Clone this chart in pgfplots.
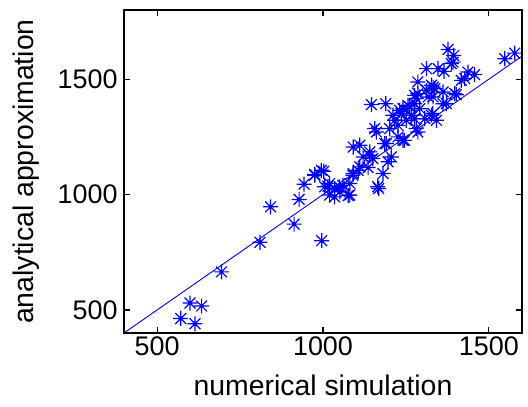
\documentclass[border=0pt]{standalone}
\usepackage{fontspec}
\setmainfont{Liberation Sans}
\usepackage{pgfplots}
\pgfplotsset{compat=1.18}
\definecolor{mblue}{rgb}{0,0,1}
\pgfdeclareplotmark{mstar}{%
  \pgfpathmoveto{\pgfqpoint{-\pgfplotmarksize}{0pt}}%
  \pgfpathlineto{\pgfqpoint{\pgfplotmarksize}{0pt}}%
  \pgfpathmoveto{\pgfqpoint{0pt}{-\pgfplotmarksize}}%
  \pgfpathlineto{\pgfqpoint{0pt}{\pgfplotmarksize}}%
  \pgfpathmoveto{\pgfqpoint{-.72\pgfplotmarksize}{-.72\pgfplotmarksize}}%
  \pgfpathlineto{\pgfqpoint{.72\pgfplotmarksize}{.72\pgfplotmarksize}}%
  \pgfpathmoveto{\pgfqpoint{-.72\pgfplotmarksize}{.72\pgfplotmarksize}}%
  \pgfpathlineto{\pgfqpoint{.72\pgfplotmarksize}{-.72\pgfplotmarksize}}%
  \pgfusepathqstroke}
\begin{document}
\begin{tikzpicture}
\begin{axis}[
  scale only axis, width=398bp, height=323bp,
  xmin=400, xmax=1600, ymin=400, ymax=1800,
  xtick={500,1000,1500}, ytick={500,1000,1500},
  xtick pos=both, ytick pos=both,
  tick align=inside, major tick length=6bp,
  axis line style={line width=1.5bp, black},
  every tick/.append style={black, line width=1.3bp},
  /pgf/number format/assume math mode=true,
  /pgf/number format/1000 sep={},
  ticklabel style={font=\fontsize{27}{30}\selectfont},
  yticklabel style={xshift=-3bp},
  label style={font=\fontsize{28.5}{32}\selectfont},
  xlabel={numerical simulation},
  ylabel={analytical approximation},
  xlabel style={at={(axis description cs:0.5,-0.192)}, anchor=base},
  ylabel style={at={(axis description cs:-0.2286,0.5)}, anchor=base},
]
\addplot[mblue, line width=0.9bp] coordinates {(400,400) (1600,1600)};
\addplot[only marks, mark=mstar, mark size=7.5bp, mblue, mark options={line width=1.2bp}] coordinates {
(571,463) (599,530) (634,517) (614,440) (694,665) (810,793) (913,872) (996,800)
(842,947) (928,979) (943,1045) (975,1087) (1002,1101) (1015,1036) (1035,990)
(1050,1033) (1076,996) (1081,1048) (1091,1091) (1106,1105) (1091,1206) (1111,1214)
(1121,1163) (1141,1170) (1136,1117) (1168,1026) (1181,1091) (1196,1142) (1206,1163)
(1191,1221) (1241,1235) (1286,1271) (1161,1271) (1146,1390) (1189,1394)
(1377,1629) (1394,1603) (1392,1574) (1312,1546) (1347,1546) (1365,1534)
(1437,1531) (1457,1520) (1427,1503) (1286,1488) (1327,1474) (1312,1452)
(1337,1459) (1276,1430) (1317,1423) (1362,1445) (1402,1433) (1372,1394)
(1256,1387) (1548,1589) (1578,1613) (1231,1365) (1261,1380) (1281,1416)
(1342,1322) (1307,1329) (1281,1286) (1246,1235) (1201,1286) (1156,1286)
(1226,1300) (1251,1322) (1111,1120) (1266,1344) (1331,1351) (1211,1344)
(995,1105) (975,1084) (1020,1048) (1005,1034) (1035,1026) (1060,1040) (1051,1012)
(1081,998) (1020,998) (1090,1084) (1150,1156) (1165,1034)
(1216,1322) (1236,1351) (1276,1329) (1226,1250) (1141,1185) (1186,1221)
(1327,1344) (1387,1568) (1417,1495) (1332,1466) (1286,1438) (1332,1423)
(1362,1394) (1276,1394) (1241,1372) (1292,1372) (1397,1438)
};
\draw[black, line width=1.5bp] (rel axis cs:0,0) rectangle (rel axis cs:1,1);
\pgfplotsinvokeforeach{500,1000,1500}{
  \draw[black, line width=1.3bp] (axis cs:#1,400) -- ([yshift=6bp]axis cs:#1,400);
  \draw[black, line width=1.3bp] (axis cs:#1,1800) -- ([yshift=-6bp]axis cs:#1,1800);
  \draw[black, line width=1.3bp] (axis cs:400,#1) -- ([xshift=6bp]axis cs:400,#1);
  \draw[black, line width=1.3bp] (axis cs:1600,#1) -- ([xshift=-6bp]axis cs:1600,#1);
}
\end{axis}
\path (current axis.south west) ++(-124bp,-74bp);
\path (current axis.north east) ++(6bp,10bp);
\end{tikzpicture}
\end{document}
